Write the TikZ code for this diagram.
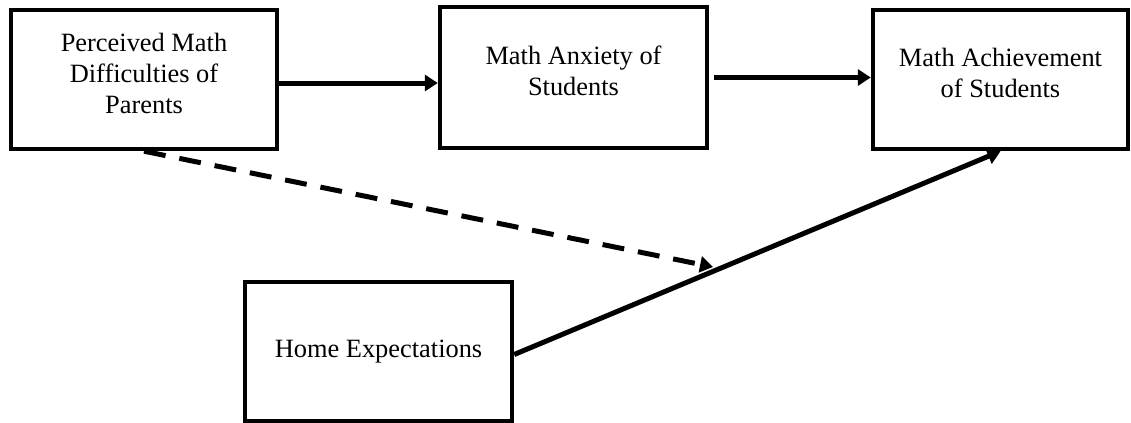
\documentclass[tikz,border=0pt]{standalone}
\usepackage{fontspec}
\setmainfont{Liberation Serif}
\usetikzlibrary{arrows.meta}

\tikzset{
    caja/.style={draw, line width=2.2pt, align=center, inner sep=0pt,
        font=\fontsize{13.2}{15.5}\selectfont},
    cajaarriba/.style={caja, text depth=6.5pt},
    flecha/.style={line width=2.5pt, -{Triangle[length=6.5pt,width=8pt]}},
    flechapunteada/.style={flecha, dash pattern=on 11pt off 7pt}
}

\begin{document}
\begin{tikzpicture}[x=0.5pt,y=-0.5pt]
        \useasboundingbox (0,0) rectangle (1131,423);

        % Paso 1: Cajas de la fila superior
        \node[cajaarriba, minimum width=133pt, minimum height=69.5pt] (percibida) at (144,79.5)
            {Perceived Math\\Difficulties of\\Parents};
        \node[cajaarriba, minimum width=133.5pt, minimum height=70.5pt] (ansiedad) at (573.5,77.5)
            {Math Anxiety of\\Students};
        \node[cajaarriba, minimum width=127.5pt, minimum height=69.5pt] (logro) at (1000.5,79.5)
            {Math Achievement\\of Students};

        % Paso 2: Caja de la fila inferior
        \node[caja, minimum width=133.5pt, minimum height=69.5pt] (hogar) at (378.5,351.5)
            {Home Expectations};

        % Paso 3: Punto final de la flecha punteada
        \coordinate (punta) at (713,267);

        % Paso 4: Flechas
        \draw[flecha] ([yshift=-1.75pt]percibida.east) -- ([yshift=-1.75pt]percibida.east -| ansiedad.west);
        \draw[flecha] ([xshift=2.5pt]ansiedad.east) -- (ansiedad.east -| logro.west);
        \draw[flechapunteada] (percibida.south) -- (punta);
        \draw[flecha] ([yshift=-1.5pt]hogar.east) -- (logro.south);
    \end{tikzpicture}
\end{document}
